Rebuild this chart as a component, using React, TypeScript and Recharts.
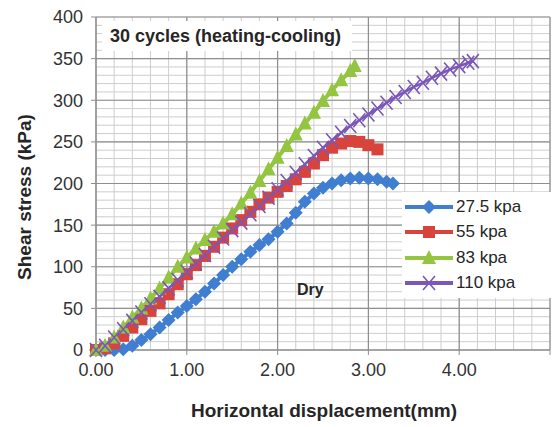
import { CartesianGrid, Legend, Line, LineChart, XAxis, YAxis } from "recharts";

// horizontal displacement (mm) / shear stress (kPa) for each normal stress
const disp275 = [0, 0.1, 0.2, 0.3, 0.4, 0.5, 0.6, 0.7, 0.8, 0.9, 1.0, 1.1, 1.2, 1.3, 1.4, 1.5, 1.6, 1.7, 1.8, 1.9, 2.0, 2.1, 2.2, 2.3, 2.4, 2.5, 2.6, 2.7, 2.8, 2.9, 3.0, 3.1, 3.2, 3.27];
const stress275 = [0, 0, 0, 1, 5, 12, 19, 27, 36, 45, 53, 61, 70, 80, 90, 100, 109, 118, 126, 133, 142, 152, 165, 178, 188, 195, 200, 204, 206, 207, 206, 205, 202, 200];

const disp55 = [0, 0.1, 0.2, 0.3, 0.4, 0.5, 0.6, 0.7, 0.8, 0.9, 1.0, 1.1, 1.2, 1.3, 1.4, 1.5, 1.6, 1.7, 1.8, 1.9, 2.0, 2.1, 2.2, 2.3, 2.4, 2.5, 2.6, 2.7, 2.8, 2.9, 3.0, 3.1];
const stress55 = [0, 2, 8, 17, 27, 37, 47, 56, 67, 79, 91, 102, 113, 124, 135, 146, 156, 166, 175, 183, 190, 197, 205, 214, 224, 234, 243, 248, 251, 250, 246, 241];

const disp83 = [0, 0.1, 0.2, 0.3, 0.4, 0.5, 0.6, 0.7, 0.8, 0.9, 1.0, 1.1, 1.2, 1.3, 1.4, 1.5, 1.6, 1.7, 1.8, 1.9, 2.0, 2.1, 2.2, 2.3, 2.4, 2.5, 2.6, 2.7, 2.8, 2.85];
const stress83 = [0, 5, 15, 27, 39, 50, 62, 74, 87, 100, 111, 122, 132, 142, 152, 163, 176, 189, 203, 217, 231, 245, 259, 272, 285, 299, 312, 324, 335, 341];

const disp110 = [0, 0.1, 0.2, 0.3, 0.4, 0.5, 0.6, 0.7, 0.8, 0.9, 1.0, 1.1, 1.2, 1.3, 1.4, 1.5, 1.6, 1.7, 1.8, 1.9, 2.0, 2.1, 2.2, 2.3, 2.4, 2.5, 2.6, 2.7, 2.8, 2.9, 3.0, 3.1, 3.2, 3.3, 3.4, 3.5, 3.6, 3.7, 3.8, 3.9, 4.0, 4.1, 4.15];
const stress110 = [0, 5, 15, 25, 35, 45, 55, 64, 74, 84, 94, 104, 114, 124, 134, 144, 153, 163, 173, 183, 193, 203, 213, 223, 233, 243, 252, 261, 269, 276, 283, 290, 297, 304, 310, 316, 321, 327, 332, 337, 341, 345, 347];

const seriesNames = ["27.5 kpa", "55 kpa", "83 kpa", "110 kpa"];
const seriesColors = ["#3F7ED0", "#D8443B", "#93C540", "#7B57B8"];

const xTicks = [0, 1, 2, 3, 4, 5];
const yTicks = [0, 50, 100, 150, 200, 250, 300, 350, 400];
const xMinorTicks = [0, 0.2, 0.4, 0.6, 0.8, 1, 1.2, 1.4, 1.6, 1.8, 2, 2.2, 2.4, 2.6, 2.8, 3, 3.2, 3.4, 3.6, 3.8, 4, 4.2, 4.4, 4.6, 4.8, 5];
const yMinorTicks = [0, 10, 20, 30, 40, 50, 60, 70, 80, 90, 100, 110, 120, 130, 140, 150, 160, 170, 180, 190, 200, 210, 220, 230, 240, 250, 260, 270, 280, 290, 300, 310, 320, 330, 340, 350, 360, 370, 380, 390, 400];

const X_MAX = 5;
const Y_MAX = 400;

const toRows = (xs: number[], ys: number[]) => xs.map((x, i) => ({ x, y: ys[i] }));

const FONT = "'Liberation Sans', Arial, sans-serif";

const shape = (kind: number, cx: number, cy: number, color: string, key?: string) => {
  if (kind === 0) {
    return <polygon key={key} points={`${cx},${cy - 7} ${cx + 7},${cy} ${cx},${cy + 7} ${cx - 7},${cy}`} fill={color} />;
  }
  if (kind === 1) {
    return <rect key={key} x={cx - 6} y={cy - 6} width={12} height={12} fill={color} />;
  }
  if (kind === 2) {
    return <polygon key={key} points={`${cx},${cy - 8} ${cx + 7},${cy + 6} ${cx - 7},${cy + 6}`} fill={color} />;
  }
  return (
    <path key={key} d={`M${cx - 6},${cy - 7}L${cx + 6},${cy + 7}M${cx + 6},${cy - 7}L${cx - 6},${cy + 7}`} stroke={color} strokeWidth={1.6} fill="none" />
  );
};

const makeDot = (kind: number) => (p: any) => shape(kind, p.cx, p.cy, seriesColors[kind], `m${kind}-${p.index}`);

const applyScale = (axis: any, v: number) => {
  const s = axis && axis.scale;
  if (typeof s === "function") return s(v);
  if (s && typeof s.map === "function") return s.map(v);
  return NaN;
};

// minor grid positions go through the axis scales when available
const minorVertical = ({ xAxis, offset }: any) =>
  xMinorTicks.map((t) => {
    const p = applyScale(xAxis, t);
    return Number.isFinite(p) ? p : offset.left + (t / X_MAX) * offset.width;
  });
const minorHorizontal = ({ yAxis, offset }: any) =>
  yMinorTicks.map((t) => {
    const p = applyScale(yAxis, t);
    return Number.isFinite(p) ? p : offset.top + offset.height - (t / Y_MAX) * offset.height;
  });

const LegendBox = () => (
  <div style={{ background: "#fff", padding: "2px 0", fontFamily: FONT, fontSize: 17, color: "#262626" }}>
    {seriesNames.map((name, i) => (
      <div key={name} style={{ display: "flex", alignItems: "center", height: 25.5 }}>
        <svg width={52} height={20}>
          <line x1={3} y1={10} x2={51} y2={10} stroke={seriesColors[i]} strokeWidth={4} />
          {shape(i, 27, 10, seriesColors[i])}
        </svg>
        <span style={{ marginLeft: 2 }}>{name}</span>
      </div>
    ))}
  </div>
);

const YTitle = () => (
  <text x={24} y={197} transform="rotate(-90 24 197)" textAnchor="middle" dominantBaseline="central" fontFamily={FONT} fontWeight="bold" fontSize={19} fill="#262626">
    Shear stress (kPa)
  </text>
);

const XTitle = () => (
  <text x={324} y={410} textAnchor="middle" dominantBaseline="central" fontFamily={FONT} fontWeight="bold" fontSize={19} fill="#262626">
    Horizontal displacement(mm)
  </text>
);

const datasets = [toRows(disp275, stress275), toRows(disp55, stress55), toRows(disp83, stress83), toRows(disp110, stress110)];

export default function App() {
  return (
    <div style={{ position: "absolute", left: 0, top: 0, width: 552, height: 427, background: "#fff" }}>
      <LineChart width={552} height={427} margin={{ top: 17, right: 2, bottom: 47, left: 36 }}>
        <CartesianGrid
          stroke="#cdcdcd"
          strokeWidth={1}
          verticalCoordinatesGenerator={minorVertical}
          horizontalCoordinatesGenerator={minorHorizontal}
        />
        <CartesianGrid stroke="#8f8f8f" strokeWidth={1.2} />
        <XAxis
          dataKey="x"
          type="number"
          domain={[0, X_MAX]}
          ticks={xTicks}
          tickFormatter={(v: number) => (v === X_MAX ? "" : v.toFixed(2))}
          height={30}
          tickSize={5}
          tickMargin={8}
          stroke="#8f8f8f"
          tick={{ fontFamily: FONT, fontSize: 18, fill: "#333" }}
          label={<XTitle />}
        />
        <YAxis
          type="number"
          domain={[0, Y_MAX]}
          ticks={yTicks}
          width={60}
          tickSize={5}
          tickMargin={8}
          stroke="#8f8f8f"
          tick={{ fontFamily: FONT, fontSize: 18, fill: "#333" }}
          label={<YTitle />}
        />
        {datasets.map((rows, i) => (
          <Line
            key={seriesNames[i]}
            data={rows}
            dataKey="y"
            name={seriesNames[i]}
            stroke={seriesColors[i]}
            strokeWidth={i === 3 ? 2.5 : 4}
            dot={makeDot(i)}
            activeDot={false}
            isAnimationActive={false}
          />
        ))}
        <Legend
          layout="vertical"
          align="center"
          verticalAlign="middle"
          content={<LegendBox />}
          wrapperStyle={{ left: 402, top: 192, width: 150 }}
        />
      </LineChart>
      <div
        style={{
          position: "absolute",
          left: 102,
          top: 21,
          width: 250,
          height: 30,
          background: "#fff",
          fontFamily: FONT,
          fontWeight: "bold",
          fontSize: 18,
          lineHeight: "30px",
          color: "#262626",
          paddingLeft: 8,
          boxSizing: "border-box",
        }}
      >
        30 cycles (heating-cooling)
      </div>
      <div
        style={{
          position: "absolute",
          left: 297,
          top: 280,
          fontFamily: FONT,
          fontWeight: "bold",
          fontSize: 16,
          lineHeight: "20px",
          color: "#262626",
        }}
      >
        Dry
      </div>
    </div>
  );
}
